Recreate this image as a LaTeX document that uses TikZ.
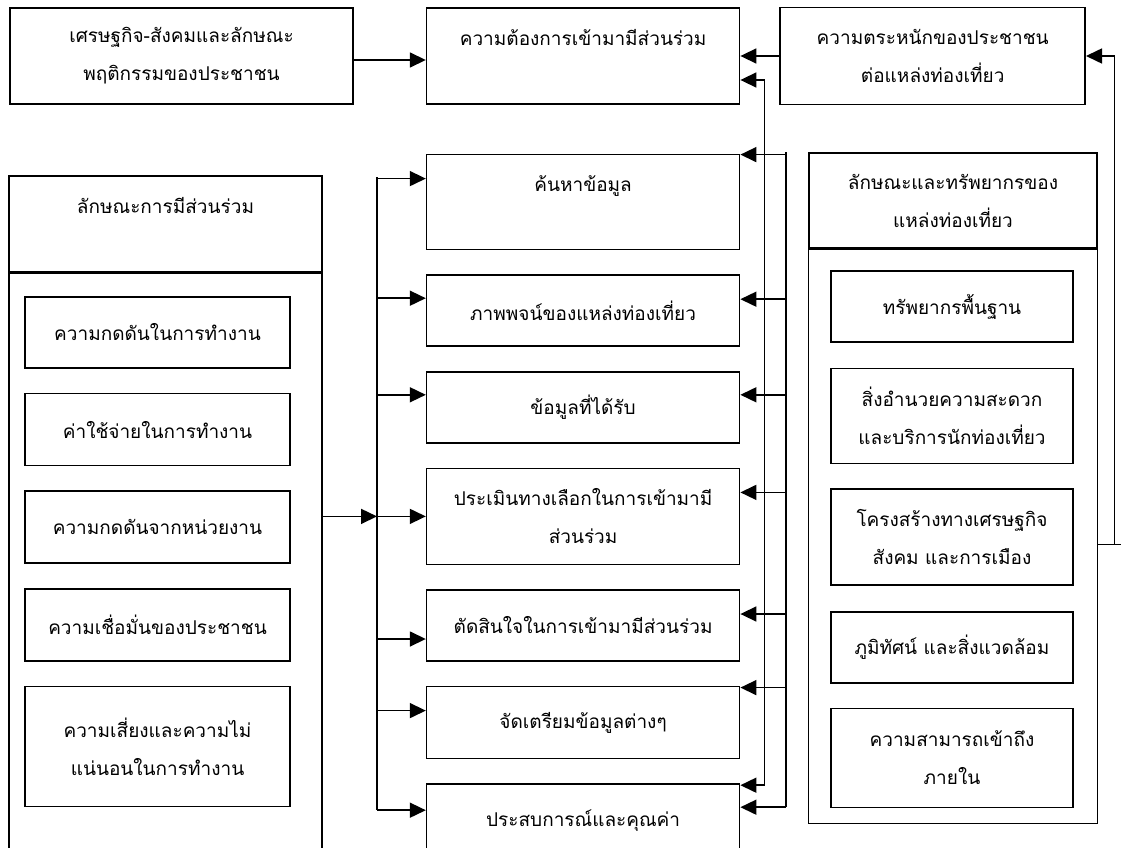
\documentclass[tikz,border=0pt]{standalone}
\usepackage{fontspec}
\newfontfamily\thaifont[Script=Thai]{Loma}
\usetikzlibrary{arrows.meta,positioning}

\begin{document}
\begin{tikzpicture}[x=1pt, y=-1pt, node distance=24pt,
    box/.style={draw, line width=1.6pt, align=center, inner sep=0pt, font=\thaifont\fontsize{19}{38}\selectfont},
    midbox/.style={box, minimum width=313pt, minimum height=71pt},
    leftbox/.style={box, minimum width=265pt, minimum height=72pt},
    rightbox/.style={box, minimum width=242pt, minimum height=71pt},
    line/.style={line width=1.6pt},
    arrow/.style={line, -{Triangle[length=16pt,width=15pt]}},
    bothway/.style={line, {Triangle[length=16pt,width=15pt]}-{Triangle[length=16pt,width=15pt]}}]
    \useasboundingbox (0,0) rectangle (1121,848);

    % Top row
    \node[box, minimum width=343pt, minimum height=96pt] (econ) at (181.5,56) {เศรษฐกิจ-สังคมและลักษณะ\\พฤติกรรมของประชาชน};
    \node[box, minimum width=313pt, minimum height=96pt, right=72pt of econ] (need) {ความต้องการเข้ามามีส่วนร่วม\\\mbox{}};
    \node[box, minimum width=305pt, minimum height=97pt, right=39pt of need] (aware) {ความตระหนักของประชาชน\\ต่อแหล่งท่องเที่ยว};

    % Middle column (steps)
    \node[midbox, minimum height=95pt, below=49pt of need] (search) {ค้นหาข้อมูล\\\mbox{}};
    \node[midbox, below=of search] (image) {ภาพพจน์ของแหล่งท่องเที่ยว};
    \node[midbox, below=of image] (info) {ข้อมูลที่ได้รับ};
    \node[midbox, minimum height=96pt, below=of info] (eval) {ประเมินทางเลือกในการเข้ามามี\\ส่วนร่วม};
    \node[midbox, below=of eval] (decide) {ตัดสินใจในการเข้ามามีส่วนร่วม};
    \node[midbox, minimum height=72pt, below=of decide] (prep) {จัดเตรียมข้อมูลต่างๆ};
    \node[midbox, minimum height=72pt, below=of prep] (exp) {ประสบการณ์และคุณค่า};

    % Left group
    \node[box, minimum width=313pt, minimum height=96pt] (parttitle) at (165.5,224) {ลักษณะการมีส่วนร่วม\\\mbox{}};
    \node[box, minimum width=313pt, minimum height=575pt, below=0pt of parttitle] (partframe) {};
    \node[leftbox, minimum height=71pt] (press) at (157.5,332.5) {ความกดดันในการทำงาน};
    \node[leftbox, below=of press] (cost) {ค่าใช้จ่ายในการทำงาน};
    \node[leftbox, below=of cost] (agency) {ความกดดันจากหน่วยงาน};
    \node[leftbox, below=of agency] (trust) {ความเชื่อมั่นของประชาชน};
    \node[leftbox, minimum height=120pt, below=of trust] (risk) {ความเสี่ยงและความไม่\\แน่นอนในการทำงาน};

    % Right group
    \node[box, minimum width=288pt, minimum height=95pt] (rtitle) at (953,200.5) {ลักษณะและทรัพยากรของ\\แหล่งท่องเที่ยว};
    \node[box, minimum width=289pt, minimum height=574pt, below=0pt of rtitle] (rframe) {};
    \node[rightbox] (basic) at (952,306.5) {ทรัพยากรพื้นฐาน};
    \node[rightbox, minimum height=95pt, below=25pt of basic] (facil) {สิ่งอำนวยความสะดวก\\และบริการนักท่องเที่ยว};
    \node[rightbox, minimum height=96pt, below=of facil] (struct) {โครงสร้างทางเศรษฐกิจ\\สังคม และการเมือง};
    \node[rightbox, below=25pt of struct] (land) {ภูมิทัศน์ และสิ่งแวดล้อม};
    \node[rightbox, minimum height=99pt, below=of land] (access) {ความสามารถเข้าถึง\\ภายใน};

    % Buses beside the steps
    \coordinate (lbus) at (377,177);
    \coordinate (rbus) at (786,152);
    \draw[line] (lbus) -- ([yshift=10pt]exp.west -| lbus);
    \draw[line] (rbus) -- ([yshift=13pt]exp.east -| rbus);
    \foreach \n/\dy in {search/23.5, image/12.5, info/12.5, eval/0, decide/-13.5, prep/12, exp/10}
        \draw[arrow] ([yshift=\dy pt]\n.west -| lbus) -- ([yshift=\dy pt]\n.west);
    \foreach \n/\dy in {search/47.5, image/11.5, info/12.5, eval/24, decide/11.5, prep/35, exp/13}
        \draw[arrow] ([yshift=\dy pt]\n.east -| rbus) -- ([yshift=\dy pt]\n.east);

    % Connections
    \draw[arrow] ([yshift=-4pt]econ.east) -- ([yshift=-4pt]need.west);
    \draw[arrow] (aware.west) -- (need.east);
    \draw[arrow] (partframe.east |- eval.west) -- (lbus |- eval.west);
    \draw[bothway] ([yshift=-24pt]need.east) -- ++(24,0) |- ([yshift=35pt]exp.east);
    \draw[arrow] ([yshift=-8pt]rframe.east) -- ++(16,0) coordinate (rturn) |- (aware.east);
    \draw[line] (rturn) -- ++(8,0);
\end{tikzpicture}
\end{document}
